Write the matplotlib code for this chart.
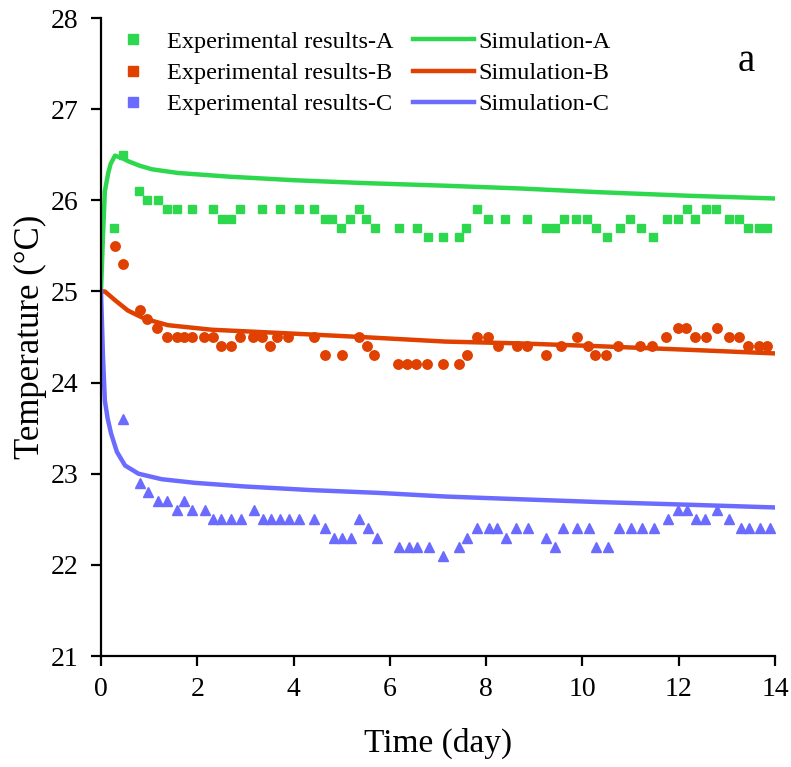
import numpy as np
import matplotlib
matplotlib.use("Agg")
import matplotlib.pyplot as plt
from matplotlib.lines import Line2D

plt.rcParams['font.family'] = ['Liberation Serif', 'DejaVu Serif']

# experimental results (day, degC)
tA = [0.27, 0.46, 0.79, 0.95, 1.18, 1.37, 1.57, 1.89, 2.33, 2.51, 2.71, 2.89, 3.34, 3.72, 4.11,
      4.42, 4.65, 4.79, 4.99, 5.17, 5.35, 5.5, 5.69, 6.18, 6.56, 6.8, 7.1, 7.44, 7.58, 7.81,
      8.04, 8.39, 8.85, 9.24, 9.43, 9.62, 9.87, 10.1, 10.28, 10.51, 10.78, 10.99, 11.22, 11.47, 11.76,
      11.98, 12.17, 12.34, 12.57, 12.78, 13.04, 13.25, 13.44, 13.67, 13.83]
yA = [25.7, 26.5, 26.1, 26.0, 26.0, 25.9, 25.9, 25.9, 25.9, 25.8, 25.8, 25.9, 25.9, 25.9, 25.9,
      25.9, 25.8, 25.8, 25.7, 25.8, 25.9, 25.8, 25.7, 25.7, 25.7, 25.6, 25.6, 25.6, 25.7, 25.9,
      25.8, 25.8, 25.8, 25.7, 25.7, 25.8, 25.8, 25.8, 25.7, 25.6, 25.7, 25.8, 25.7, 25.6, 25.8,
      25.8, 25.9, 25.8, 25.9, 25.9, 25.8, 25.8, 25.7, 25.7, 25.7]

tB = [0.29, 0.46, 0.8, 0.96, 1.17, 1.37, 1.57, 1.72, 1.9, 2.13, 2.33, 2.49, 2.7, 2.89, 3.16,
      3.35, 3.52, 3.66, 3.88, 4.43, 4.65, 5.0, 5.35, 5.53, 5.68, 6.16, 6.36, 6.54, 6.78, 7.1,
      7.44, 7.6, 7.81, 8.04, 8.25, 8.64, 8.85, 9.25, 9.56, 9.89, 10.12, 10.26, 10.49, 10.74, 11.2,
      11.45, 11.74, 11.98, 12.15, 12.34, 12.57, 12.79, 13.04, 13.25, 13.44, 13.67, 13.83]
yB = [25.5, 25.3, 24.8, 24.7, 24.6, 24.5, 24.5, 24.5, 24.5, 24.5, 24.5, 24.4, 24.4, 24.5, 24.5,
      24.5, 24.4, 24.5, 24.5, 24.5, 24.3, 24.3, 24.5, 24.4, 24.3, 24.2, 24.2, 24.2, 24.2, 24.2,
      24.2, 24.3, 24.5, 24.5, 24.4, 24.4, 24.4, 24.3, 24.4, 24.5, 24.4, 24.3, 24.3, 24.4, 24.4,
      24.4, 24.5, 24.6, 24.6, 24.5, 24.5, 24.6, 24.5, 24.5, 24.4, 24.4, 24.4]

tC = [0.46, 0.8, 0.98, 1.18, 1.38, 1.57, 1.73, 1.9, 2.15, 2.32, 2.5, 2.71, 2.9, 3.18, 3.36,
      3.54, 3.72, 3.9, 4.12, 4.43, 4.66, 4.83, 5.01, 5.19, 5.35, 5.54, 5.73, 6.2, 6.39, 6.56,
      6.82, 7.11, 7.44, 7.6, 7.82, 8.05, 8.22, 8.41, 8.63, 8.86, 9.25, 9.43, 9.6, 9.88, 10.13,
      10.29, 10.54, 10.77, 11.02, 11.24, 11.48, 11.77, 11.98, 12.17, 12.35, 12.55, 12.8, 13.05, 13.29, 13.46,
      13.68, 13.89]
yC = [23.6, 22.9, 22.8, 22.7, 22.7, 22.6, 22.7, 22.6, 22.6, 22.5, 22.5, 22.5, 22.5, 22.6, 22.5,
      22.5, 22.5, 22.5, 22.5, 22.5, 22.4, 22.3, 22.3, 22.3, 22.5, 22.4, 22.3, 22.2, 22.2, 22.2,
      22.2, 22.1, 22.2, 22.3, 22.4, 22.4, 22.4, 22.3, 22.4, 22.4, 22.3, 22.2, 22.4, 22.4, 22.4,
      22.2, 22.2, 22.4, 22.4, 22.4, 22.4, 22.5, 22.6, 22.6, 22.5, 22.5, 22.6, 22.5, 22.4, 22.4,
      22.4, 22.4]

# simulation curves
simA_t = [0, 0.04, 0.08, 0.15, 0.2, 0.29, 0.45, 0.56, 0.8, 1.06, 1.6, 2.64, 4.03, 5.42, 7.15, 8.7, 10.3, 12.2, 14]
simA_y = [25.0, 25.6, 26.1, 26.3, 26.4, 26.49, 26.46, 26.43, 26.38, 26.34, 26.3, 26.26, 26.22, 26.19, 26.16, 26.13, 26.09, 26.05, 26.02]

simB_t = [0, 0.08, 0.3, 0.56, 0.91, 1.39, 2.3, 3.89, 5.41, 7.15, 8.7, 10.3, 12.2, 14]
simB_y = [25.0, 25.0, 24.9, 24.79, 24.7, 24.63, 24.58, 24.54, 24.5, 24.45, 24.43, 24.4, 24.36, 24.32]

simC_t = [0, 0.04, 0.08, 0.14, 0.21, 0.33, 0.5, 0.78, 1.26, 1.95, 2.99, 4.38, 5.76, 7.15, 8.7, 10.3, 12.2, 14]
simC_y = [25.0, 24.3, 23.8, 23.6, 23.44, 23.24, 23.09, 23.0, 22.94, 22.9, 22.86, 22.82, 22.79, 22.75, 22.72, 22.69, 22.66, 22.63]

green = '#2ed84e'
red = '#e04000'
blue = '#6b6bff'

fig = plt.figure(figsize=(7.91, 7.67), dpi=100)
ax = fig.add_axes([0.1277, 0.1447, 0.852, 0.8318])

ax.plot(simA_t, simA_y, color=green, lw=3.2, zorder=2)
ax.plot(simB_t, simB_y, color=red, lw=3.2, zorder=2)
ax.plot(simC_t, simC_y, color=blue, lw=3.2, zorder=2)
ax.plot(tA, yA, 's', color=green, ms=6.3, zorder=3)
ax.plot(tB, yB, 'o', color=red, ms=6.8, zorder=3)
ax.plot(tC, yC, '^', color=blue, ms=7.2, zorder=3)

ax.set_xlim(0, 14)
ax.set_ylim(21, 28)
ax.set_xticks(np.arange(0, 15, 2))
ax.set_yticks(np.arange(21, 29, 1))
ax.tick_params(labelsize=20, width=1.6, length=7, direction='out')
ax.tick_params(axis='x', pad=8)
ax.tick_params(axis='y', pad=9)
for s in ['top', 'right']:
    ax.spines[s].set_visible(False)
for s in ['left', 'bottom']:
    ax.spines[s].set_linewidth(1.6)

ax.set_xlabel('Time (day)', fontsize=24, labelpad=19)
ax.set_ylabel('Temperature (°C)', fontsize=25, labelpad=3)
ax.text(0.957, 0.917, 'a', transform=ax.transAxes, fontsize=28, ha='center', va='baseline')

handles = [
    Line2D([], [], ls='none', marker='s', color=green, ms=7),
    Line2D([], [], ls='none', marker='s', color=red, ms=7),
    Line2D([], [], ls='none', marker='s', color=blue, ms=7),
    Line2D([], [], color=green, lw=3.2),
    Line2D([], [], color=red, lw=3.2),
    Line2D([], [], color=blue, lw=3.2),
]
labels = ['Experimental results-A', 'Experimental results-B', 'Experimental results-C',
          'Simulation-A', 'Simulation-B', 'Simulation-C']
ax.legend(handles, labels, ncol=2, frameon=False, fontsize=17.5, loc='upper left',
          bbox_to_anchor=(-0.012, 0.995), borderaxespad=0, handlelength=2.5,
          columnspacing=0.8, handletextpad=0.16, labelspacing=0.38)

fig.savefig('out.png', dpi=100)
